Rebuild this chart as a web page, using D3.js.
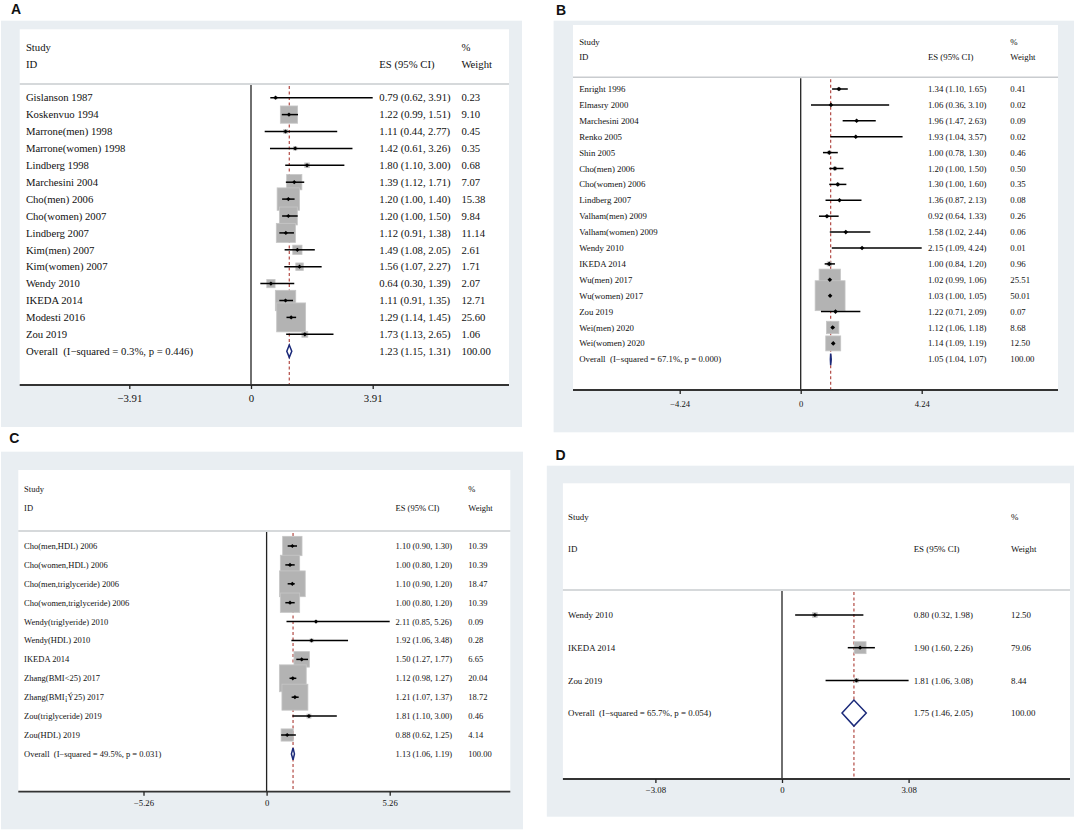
<!DOCTYPE html>
<html>
<head>
<meta charset="utf-8">
<script src="https://cdn.jsdelivr.net/npm/d3@7"></script>
<style>
  body { margin: 0; background: #fff; }
  svg text { white-space: pre; }
</style>
</head>
<body>
<svg id="chart" width="1074" height="831"></svg>
<script>
// ---------------- DATA ----------------
const studyA = ["Gislanson 1987","Koskenvuo 1994","Marrone(men) 1998","Marrone(women) 1998","Lindberg 1998","Marchesini 2004","Cho(men) 2006","Cho(women) 2007","Lindberg 2007","Kim(men) 2007","Kim(women) 2007","Wendy 2010","IKEDA 2014","Modesti 2016","Zou 2019"];
const esA = [0.79,1.22,1.11,1.42,1.80,1.39,1.20,1.20,1.12,1.49,1.56,0.64,1.11,1.29,1.73];
const loA = [0.62,0.99,0.44,0.61,1.10,1.12,1.00,1.00,0.91,1.08,1.07,0.30,0.91,1.14,1.13];
const hiA = [3.91,1.51,2.77,3.26,3.00,1.71,1.40,1.50,1.38,2.05,2.27,1.39,1.35,1.45,2.65];
const wA  = [0.23,9.10,0.45,0.35,0.68,7.07,15.38,9.84,11.14,2.61,1.71,2.07,12.71,25.60,1.06];
const overallA = [1.23,1.15,1.31];
const hetA = ["0.3%","0.446"];
const ticksA = [-3.91,0,3.91];

const studyB = ["Enright 1996","Elmasry 2000","Marchesini 2004","Renko 2005","Shin 2005","Cho(men) 2006","Cho(women) 2006","Lindberg 2007","Valham(men) 2009","Valham(women) 2009","Wendy 2010","IKEDA 2014","Wu(men) 2017","Wu(women) 2017","Zou 2019","Wei(men) 2020","Wei(women) 2020"];
const esB = [1.34,1.06,1.96,1.93,1.00,1.20,1.30,1.36,0.92,1.58,2.15,1.00,1.02,1.03,1.22,1.12,1.14];
const loB = [1.10,0.36,1.47,1.04,0.78,1.00,1.00,0.87,0.64,1.02,1.09,0.84,0.99,1.00,0.71,1.06,1.09];
const hiB = [1.65,3.10,2.63,3.57,1.30,1.50,1.60,2.13,1.33,2.44,4.24,1.20,1.06,1.05,2.09,1.18,1.19];
const wB  = [0.41,0.02,0.09,0.02,0.46,0.50,0.35,0.08,0.26,0.06,0.01,0.96,25.51,50.01,0.07,8.68,12.50];
const overallB = [1.05,1.04,1.07];
const hetB = ["67.1%","0.000"];
const ticksB = [-4.24,0,4.24];

const studyC = ["Cho(men,HDL) 2006","Cho(women,HDL) 2006","Cho(men,triglyceride) 2006","Cho(women,triglyceride) 2006","Wendy(triglyeride) 2010","Wendy(HDL) 2010","IKEDA 2014","Zhang(BMI<25) 2017","Zhang(BMI¡Ý25) 2017","Zou(triglyceride) 2019","Zou(HDL) 2019"];
const esC = [1.10,1.00,1.10,1.00,2.11,1.92,1.50,1.12,1.21,1.81,0.88];
const loC = [0.90,0.80,0.90,0.80,0.85,1.06,1.27,0.98,1.07,1.10,0.62];
const hiC = [1.30,1.20,1.20,1.20,5.26,3.48,1.77,1.27,1.37,3.00,1.25];
const wC  = [10.39,10.39,18.47,10.39,0.09,0.28,6.65,20.04,18.72,0.46,4.14];
const overallC = [1.13,1.06,1.19];
const hetC = ["49.5%","0.031"];
const ticksC = [-5.26,0,5.26];

const studyD = ["Wendy 2010","IKEDA 2014","Zou 2019"];
const esD = [0.80,1.90,1.81];
const loD = [0.32,1.60,1.06];
const hiD = [1.98,2.26,3.08];
const wD  = [12.50,79.06,8.44];
const overallD = [1.75,1.46,2.05];
const hetD = ["65.7%","0.054"];
const ticksD = [-3.08,0,3.08];

// ---------------- LAYOUT ----------------
const layouts = [
  {key:"A", study:studyA, es:esA, lo:loA, hi:hiA, w:wA, ov:overallA, het:hetA, ticks:ticksA,
   lab:[11,13.5], gray:[1,20.7,522,427], white:[19.7,29.3,509,385],
   font:10.7, tickFont:10.8, tickPad:5,
   xLabel:25.9, xES:379.3, xW:461.4,
   yStudy:47, yID:64, ySep:84, yRow0:97.7, dy:16.9, yAxis:385,
   px0:251, px1:372.7, boxK:5.72, diaH:6.2, mk:2.1},
  {key:"B", study:studyB, es:esB, lo:loB, hi:hiB, w:wB, ov:overallB, het:hetB, ticks:ticksB,
   lab:[556,15], gray:[553.6,20.7,1074,432.3], white:[573,25,1058,390],
   font:8.8, tickFont:8.6, tickPad:6.9,
   xLabel:579.2, xES:927.9, xW:1010.3,
   yStudy:41.7, yID:57.3, ySep:77.3, yRow0:89, dy:15.9, yAxis:390,
   px0:800.7, px1:921.7, boxK:4.23, diaH:5.8, mk:2.3},
  {key:"C", study:studyC, es:esC, lo:loC, hi:hiC, w:wC, ov:overallC, het:hetC, ticks:ticksC,
   lab:[9.3,443.3], gray:[1,451.7,523,829.3], white:[18.3,470,510.3,791.7],
   font:8.5, tickFont:8.7, tickPad:3.8,
   xLabel:24.1, xES:395.5, xW:468.3,
   yStudy:489.3, yID:508.3, ySep:531, yRow0:546, dy:18.9, yAxis:791.7,
   px0:266.6, px1:389.7, boxK:6.0, diaH:5.9, mk:2.1},
  {key:"D", study:studyD, es:esD, lo:loD, hi:hiD, w:wD, ov:overallD, het:hetD, ticks:ticksD,
   lab:[555.4,460], gray:[546.8,465.7,1074,816.7], white:[562.9,483.3,1070,779],
   font:8.9, tickFont:8.8, tickPad:3.9,
   xLabel:568, xES:913.7, xW:1011,
   yStudy:516.7, yID:549.3, ySep:590, yRow0:615, dy:32.7, yAxis:779,
   px0:782, px1:908.6, boxK:1.34, diaH:13, mk:2.1}
];

const SERIF = "'Liberation Serif','Times New Roman',serif";
const svg = d3.select("#chart");
const f2 = d3.format(".2f");
const esText = (e,l,h) => `${f2(e)} (${f2(l)}, ${f2(h)})`;

layouts.forEach(L => {
  const g = svg.append("g");
  // panel backgrounds
  g.append("rect").attr("x",L.gray[0]).attr("y",L.gray[1])
    .attr("width",L.gray[2]-L.gray[0]).attr("height",L.gray[3]-L.gray[1]).attr("fill","#e9eef2");
  g.append("rect").attr("x",L.white[0]).attr("y",L.white[1])
    .attr("width",L.white[2]-L.white[0]).attr("height",L.white[3]-L.white[1]).attr("fill","#ffffff");
  // panel letter
  g.append("text").attr("x",L.lab[0]).attr("y",L.lab[1]).text(L.key)
    .attr("font-family","'Liberation Sans',Arial,sans-serif").attr("font-weight","bold")
    .attr("font-size",14).attr("fill","#111");

  const x = d3.scaleLinear().domain([0, L.ticks[2]]).range([L.px0, L.px1]);
  const n = L.study.length;
  const y = d3.scaleLinear().domain([0,1]).range([L.yRow0, L.yRow0 + L.dy]);

  const txt = (xx, yy, s, anchor) => g.append("text").attr("x",xx).attr("y",yy).attr("dy","0.35em")
      .attr("font-family",SERIF).attr("font-size",L.font).attr("fill","#111")
      .attr("text-anchor",anchor||"start").text(s);

  // headers
  txt(L.xLabel, L.yStudy, "Study");
  txt(L.xLabel, L.yID, "ID");
  txt(L.xES, L.yID, "ES (95% CI)");
  txt(L.xW, L.yStudy, "%");
  txt(L.xW, L.yID, "Weight");
  g.append("line").attr("x1",L.white[0]).attr("x2",L.white[2]).attr("y1",L.ySep).attr("y2",L.ySep)
    .attr("stroke","#c9cccf").attr("stroke-width",1.5);

  // zero line
  g.append("line").attr("x1",x(0)).attr("x2",x(0)).attr("y1",L.ySep+1).attr("y2",L.yAxis)
    .attr("stroke","#222").attr("stroke-width",1.3);
  // overall dashed line
  g.append("line").attr("x1",x(L.ov[0])).attr("x2",x(L.ov[0])).attr("y1",L.ySep+2).attr("y2",L.yAxis)
    .attr("stroke","#b24a44").attr("stroke-width",1.2).attr("stroke-dasharray","3,2.5");

  const idx = d3.range(n);
  // weight boxes
  g.selectAll("rect.box").data(idx).join("rect").attr("class","box")
    .attr("x", i => x(L.es[i]) - L.boxK*Math.sqrt(L.w[i])/2)
    .attr("y", i => y(i) - L.boxK*Math.sqrt(L.w[i])/2)
    .attr("width", i => L.boxK*Math.sqrt(L.w[i]))
    .attr("height", i => L.boxK*Math.sqrt(L.w[i]))
    .attr("fill","#b3b3b3").attr("stroke","#c6c6c6").attr("stroke-width",0.8);
  // CI lines
  g.selectAll("line.ci").data(idx).join("line").attr("class","ci")
    .attr("x1", i => x(L.lo[i])).attr("x2", i => x(L.hi[i]))
    .attr("y1", i => y(i)).attr("y2", i => y(i))
    .attr("stroke","#000").attr("stroke-width",1.5);
  // point markers
  g.selectAll("path.pt").data(idx).join("path").attr("class","pt")
    .attr("d", i => { const cx=x(L.es[i]), cy=y(i), m=L.mk;
      return `M${cx-m},${cy}L${cx},${cy-m}L${cx+m},${cy}L${cx},${cy+m}Z`; })
    .attr("fill","#000");
  // row texts
  idx.forEach(i => {
    txt(L.xLabel, y(i), L.study[i]);
    txt(L.xES, y(i), esText(L.es[i], L.lo[i], L.hi[i]));
    txt(L.xW, y(i), f2(L.w[i]));
  });
  // overall
  const yo = y(n);
  g.append("path")
    .attr("d", `M${x(L.ov[1])},${yo}L${x(L.ov[0])},${yo-L.diaH}L${x(L.ov[2])},${yo}L${x(L.ov[0])},${yo+L.diaH}Z`)
    .attr("fill","#fff").attr("stroke","#1b2a7a").attr("stroke-width",1.5);
  txt(L.xLabel, yo, `Overall  (I\u2212squared = ${L.het[0]}, p = ${L.het[1]})`);
  txt(L.xES, yo, esText(L.ov[0], L.ov[1], L.ov[2]));
  txt(L.xW, yo, f2(100));

  // x axis
  g.append("line").attr("x1",L.white[0]).attr("x2",L.white[2]).attr("y1",L.yAxis).attr("y2",L.yAxis)
    .attr("stroke","#333").attr("stroke-width",1.8);
  const ax = g.append("g").attr("transform",`translate(0,${L.yAxis})`)
    .call(d3.axisBottom(x).tickValues(L.ticks).tickSize(4).tickPadding(L.tickPad)
      .tickFormat(d => d === 0 ? "0" : f2(d)));
  ax.select(".domain").remove();
  ax.selectAll(".tick line").attr("stroke","#222").attr("stroke-width",1.3);
  ax.selectAll(".tick text").attr("font-family",SERIF).attr("font-size",L.tickFont).attr("fill","#111");
});
</script>
</body>
</html>
